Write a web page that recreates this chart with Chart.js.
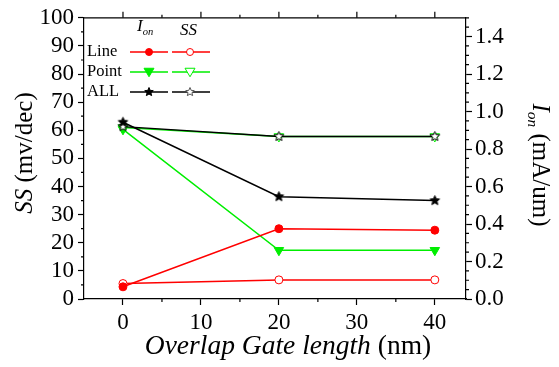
<!DOCTYPE html>
<html>
<head>
<meta charset="utf-8">
<script src="https://cdn.jsdelivr.net/npm/chart.js@4.4.0/dist/chart.umd.min.js"></script>
<style>
  body { margin: 0; background: #fff; }
  #wrap { width: 559px; height: 367px; }
</style>
</head>
<body>
<div id="wrap"><canvas id="chart" width="559" height="367"></canvas></div>
<script>
// overlap gate length (nm)
const gateLength = [0, 20, 40];

// I_on (mA/um), right axis
const ionLine = [0.065, 0.375, 0.367];
const ionPoint = [0.905, 0.26, 0.26];
const ionAll = [0.943, 0.546, 0.525];

// SS (mv/dec), left axis
const ssLine = [5.5, 6.8, 6.8];
const ssPoint = [61, 57.8, 57.8];
const ssAll = [61.3, 57.8, 57.8];

const xTicks = [0, 10, 20, 30, 40];
const ssTicks = [0, 10, 20, 30, 40, 50, 60, 70, 80, 90, 100];
const ionTicks = [0, 0.2, 0.4, 0.6, 0.8, 1.0, 1.2, 1.4];

const RED = '#ff0000';
const GREEN = '#00ee00';
const BLACK = '#000000';
const SERIF = "Liberation Serif, serif";

Chart.defaults.font.family = SERIF;
Chart.defaults.color = BLACK;

function starImage(fill, stroke, r) {
    const c = document.createElement('canvas');
    const s = Math.ceil(2 * r + 3);
    c.width = c.height = s;
    const g = c.getContext('2d');
    g.beginPath();
    for (let i = 0; i < 10; i++) {
        const rad = i % 2 ? r * 0.45 : r;
        const a = -Math.PI / 2 + i * Math.PI / 5;
        g.lineTo(s / 2 + rad * Math.cos(a), s / 2 + rad * Math.sin(a));
    }
    g.closePath();
    g.fillStyle = fill;
    g.fill();
    g.strokeStyle = stroke;
    g.lineWidth = 1;
    g.stroke();
    return c;
}

const starFilled = starImage(BLACK, BLACK, 5);
const starOpen = starImage('#fff', BLACK, 5);
const starFilledSmall = starImage(BLACK, BLACK, 4.5);
const starOpenSmall = starImage('#fff', '#555', 4.5);

const toPoints = (ys) => gateLength.map((x, i) => ({ x: x, y: ys[i] }));

function series(label, ys, axis, color, style, filled, order) {
    const isTri = style === 'triangle';
    return {
        label: label,
        data: toPoints(ys),
        yAxisID: axis,
        borderColor: color,
        backgroundColor: color,
        borderWidth: 1.5,
        pointStyle: style,
        pointRotation: isTri ? 180 : 0,
        pointRadius: isTri ? 5.5 : 4,
        pointBorderWidth: 1,
        pointBorderColor: color,
        pointBackgroundColor: filled ? color : '#fff',
        tension: 0,
        order: order
    };
}

const datasets = [
    series('Line Ion', ionLine, 'y1', RED, 'circle', true, 2),
    series('Line SS', ssLine, 'y', RED, 'circle', false, 2),
    series('Point Ion', ionPoint, 'y1', GREEN, 'triangle', true, 3),
    series('Point SS', ssPoint, 'y', GREEN, 'triangle', false, 3),
    series('ALL Ion', ionAll, 'y1', BLACK, starFilled, true, 1),
    series('ALL SS', ssAll, 'y', BLACK, starOpen, false, 1)
];

const tickFont = { family: SERIF, size: 23 };

function axisGrid() {
    return { display: true, drawOnChartArea: false, drawTicks: true, tickLength: 6, color: BLACK, tickWidth: 1.2 };
}

// draws text pieces [text, italic, sub] in a row starting at x
function drawRich(ctx, parts, x, y, size) {
    parts.forEach(([text, italic, sub]) => {
        const s = sub ? size * 0.62 : size;
        ctx.font = (italic ? 'italic ' : '') + s + 'px ' + SERIF;
        ctx.fillText(text, x, y + (sub ? size * 0.3 : 0));
        x += ctx.measureText(text).width;
    });
    return x;
}

function richWidth(ctx, parts, size) {
    return parts.reduce((w, [text, italic, sub]) => {
        const s = sub ? size * 0.62 : size;
        ctx.font = (italic ? 'italic ' : '') + s + 'px ' + SERIF;
        return w + ctx.measureText(text).width;
    }, 0);
}

function drawMarker(ctx, style, filled, color, x, y, r) {
    if (style === 'star') {
        const img = filled ? starFilledSmall : starOpenSmall;
        ctx.drawImage(img, x - img.width / 2, y - img.height / 2);
        return;
    }
    ctx.beginPath();
    if (style === 'circle') {
        ctx.arc(x, y, r, 0, Math.PI * 2);
    } else {
        ctx.moveTo(x - r, y - r * 0.75);
        ctx.lineTo(x + r, y - r * 0.75);
        ctx.lineTo(x, y + r * 0.95);
        ctx.closePath();
    }
    ctx.fillStyle = filled ? color : '#fff';
    ctx.fill();
    ctx.strokeStyle = color;
    ctx.lineWidth = 1;
    ctx.stroke();
}

const decorations = {
    id: 'decorations',
    afterDraw(chart) {
        const ctx = chart.ctx;
        const area = chart.chartArea;
        const xs = chart.scales.x, ys = chart.scales.y, y1 = chart.scales.y1;
        ctx.save();
        ctx.strokeStyle = BLACK;
        ctx.lineWidth = 1.2;

        // top frame line
        ctx.beginPath();
        ctx.moveTo(area.left, area.top);
        ctx.lineTo(area.right, area.top);
        ctx.stroke();

        // minor ticks and top ticks
        ctx.beginPath();
        for (let v = 0; v <= 40; v += 5) {
            const px = xs.getPixelForValue(v);
            const major = v % 10 === 0;
            ctx.moveTo(px, area.top);
            ctx.lineTo(px, area.top - (major ? 6 : 3));
            if (!major) {
                ctx.moveTo(px, area.bottom);
                ctx.lineTo(px, area.bottom + 3);
            }
        }
        for (let v = 5; v < 100; v += 10) {
            const py = ys.getPixelForValue(v);
            ctx.moveTo(area.left, py);
            ctx.lineTo(area.left - 3, py);
        }
        for (let i = 1; i <= 30; i++) {
            if (i % 4 === 0) continue;
            const py = y1.getPixelForValue(i * 0.05);
            ctx.moveTo(area.right, py);
            ctx.lineTo(area.right + 3, py);
        }
        ctx.stroke();

        ctx.fillStyle = BLACK;
        ctx.textBaseline = 'middle';
        ctx.textAlign = 'left';

        // x axis title
        const xParts = [['Overlap Gate length', true], [' (nm)', false]];
        const xw = richWidth(ctx, xParts, 27.5);
        drawRich(ctx, xParts, 288 - xw / 2, 347, 27.5);

        // left title
        const lParts = [['SS', true], [' (mv/dec)', false]];
        ctx.save();
        ctx.translate(25, 153);
        ctx.rotate(-Math.PI / 2);
        drawRich(ctx, lParts, -richWidth(ctx, lParts, 25) / 2, 0, 25);
        ctx.restore();

        // right title
        const rParts = [['I', true], ['on', true, true], [' (mA/um)', false]];
        ctx.save();
        ctx.translate(540, 165);
        ctx.rotate(Math.PI / 2);
        drawRich(ctx, rParts, -richWidth(ctx, rParts, 25) / 2, 0, 25);
        ctx.restore();

        // legend
        drawRich(ctx, [['I', true], ['on', true, true]], 137, 27, 17);
        drawRich(ctx, [['SS', true]], 180, 31, 17);
        const rows = [
            ['Line', RED, 'circle', 52],
            ['Point', GREEN, 'triangle', 72],
            ['ALL', BLACK, 'star', 92]
        ];
        rows.forEach(([name, color, style, y]) => {
            ctx.fillStyle = BLACK;
            ctx.font = '16.5px ' + SERIF;
            ctx.fillText(name, 87, y);
            ctx.strokeStyle = color;
            ctx.lineWidth = 1.5;
            ctx.beginPath();
            ctx.moveTo(130, y); ctx.lineTo(168, y);
            ctx.moveTo(172, y); ctx.lineTo(210, y);
            ctx.stroke();
            drawMarker(ctx, style, true, color, 149, y, style === 'circle' ? 3.5 : 5);
            drawMarker(ctx, style, false, color, 190, y, style === 'circle' ? 3.5 : 5);
        });
        ctx.restore();
    }
};

new Chart(document.getElementById('chart'), {
    type: 'line',
    data: { datasets: datasets },
    options: {
        responsive: false,
        animation: false,
        devicePixelRatio: 1,
        layout: { padding: { top: 16, left: 0, right: 0, bottom: 0 } },
        plugins: { legend: { display: false }, tooltip: { enabled: false } },
        scales: {
            x: {
                type: 'linear',
                min: -5,
                max: 44,
                afterBuildTicks: (scale) => { scale.ticks = xTicks.map((v) => ({ value: v })); },
                afterFit: (scale) => { scale.height = 68; },
                grid: axisGrid(),
                border: { display: true, color: BLACK, width: 1.2 },
                ticks: { font: tickFont, color: BLACK, padding: 4, maxRotation: 0, autoSkip: false }
            },
            y: {
                type: 'linear',
                position: 'left',
                min: 0,
                max: 100,
                afterBuildTicks: (scale) => { scale.ticks = ssTicks.map((v) => ({ value: v })); },
                afterFit: (scale) => { scale.width = 84; },
                grid: axisGrid(),
                border: { display: true, color: BLACK, width: 1.2 },
                ticks: { font: tickFont, color: BLACK, padding: 4, autoSkip: false }
            },
            y1: {
                type: 'linear',
                position: 'right',
                min: 0,
                max: 1.5,
                afterBuildTicks: (scale) => { scale.ticks = ionTicks.map((v) => ({ value: v })); },
                afterFit: (scale) => { scale.width = 93; },
                grid: axisGrid(),
                border: { display: true, color: BLACK, width: 1.2 },
                ticks: { font: tickFont, color: BLACK, padding: 3, autoSkip: false, callback: (v) => v.toFixed(1) }
            }
        }
    },
    plugins: [decorations]
});
</script>
</body>
</html>
